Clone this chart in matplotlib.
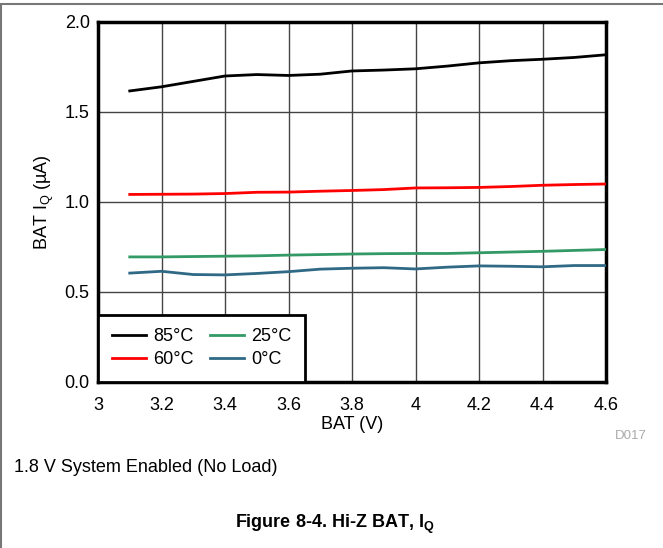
import numpy as np
import matplotlib.pyplot as plt
from matplotlib.patches import Rectangle
from matplotlib.lines import Line2D

plt.rcParams['font.family'] = ['Liberation Sans', 'DejaVu Sans']

bat_v = [3.1, 3.2, 3.3, 3.4, 3.5, 3.6, 3.7, 3.8, 3.9, 4.0, 4.1, 4.2, 4.3, 4.4, 4.5, 4.6]
iq_85 = [1.617, 1.640, 1.670, 1.700, 1.708, 1.703, 1.710, 1.728, 1.733, 1.740, 1.755, 1.773, 1.785, 1.793, 1.803, 1.818]
iq_60 = [1.042, 1.043, 1.044, 1.047, 1.054, 1.055, 1.060, 1.064, 1.069, 1.078, 1.079, 1.081, 1.086, 1.093, 1.097, 1.100]
iq_25 = [0.695, 0.695, 0.697, 0.699, 0.701, 0.705, 0.708, 0.711, 0.713, 0.714, 0.714, 0.718, 0.722, 0.726, 0.731, 0.736]
iq_0 = [0.605, 0.615, 0.597, 0.595, 0.603, 0.613, 0.627, 0.632, 0.635, 0.628, 0.638, 0.645, 0.643, 0.640, 0.647, 0.647]

labels = ['85°C', '60°C', '25°C', '0°C']
colors = ['#000000', '#ff0000', '#339966', '#2f6985']
series = [iq_85, iq_60, iq_25, iq_0]

fig = plt.figure(figsize=(6.63, 5.48), dpi=100)
ax = fig.add_axes([98 / 663, 1 - 382 / 548, (606 - 98) / 663, (382 - 22) / 548])

# outer page border (only top and left are visible)
fig.patches.append(Rectangle((0.0015, -0.1), 1.2, 1.1 - 0.0065, transform=fig.transFigure,
                             fill=False, edgecolor='#777777', linewidth=1.5))

for y, c, lab in zip(series, colors, labels):
    ax.plot(bat_v, y, color=c, lw=2, label=lab, zorder=3)

ax.set_xlim(3, 4.6)
ax.set_ylim(0, 2.0)
ax.set_xticks(np.arange(3, 4.61, 0.2))
ax.set_xticklabels(['3', '3.2', '3.4', '3.6', '3.8', '4', '4.2', '4.4', '4.6'])
ax.set_yticks([0, 0.5, 1.0, 1.5, 2.0])
ax.set_yticklabels(['0.0', '0.5', '1.0', '1.5', '2.0'])
ax.grid(True, color='#444444', lw=1)
ax.tick_params(labelsize=13, length=0)
ax.tick_params(axis='x', pad=11)
ax.tick_params(axis='y', pad=6)
for s in ax.spines.values():
    s.set_linewidth(2.5)

ax.set_xlabel('BAT (V)', fontsize=13, labelpad=1)
ax.set_ylabel('BAT I$_\\mathregular{Q}$ (µA)', fontsize=13, labelpad=6)

handles = [Line2D([], [], color=c, lw=2) for c in colors]
leg = ax.legend(handles, labels, loc='lower left', ncol=2, fontsize=13,
                frameon=True, fancybox=False, borderaxespad=0,
                handlelength=1.9, columnspacing=0.9, handletextpad=0.4,
                labelspacing=0.35, borderpad=0.75)
leg.get_frame().set_edgecolor('black')
leg.get_frame().set_linewidth(2)
leg.get_frame().set_alpha(1)

fig.text(615 / 663, 1 - 436 / 548, 'D017', fontsize=9.5, color='#aaaaaa', ha='left', va='center')
fig.text(14 / 663, 1 - 467 / 548, '1.8 V System Enabled (No Load)', fontsize=13, ha='left', va='center')
fig.text(335 / 663, 1 - 524 / 548, 'Figure 8-4. Hi-Z BAT, I$_\\mathregular{Q}$', fontsize=13,
         fontweight='bold', ha='center', va='center')

fig.savefig('out.png', dpi=100)
